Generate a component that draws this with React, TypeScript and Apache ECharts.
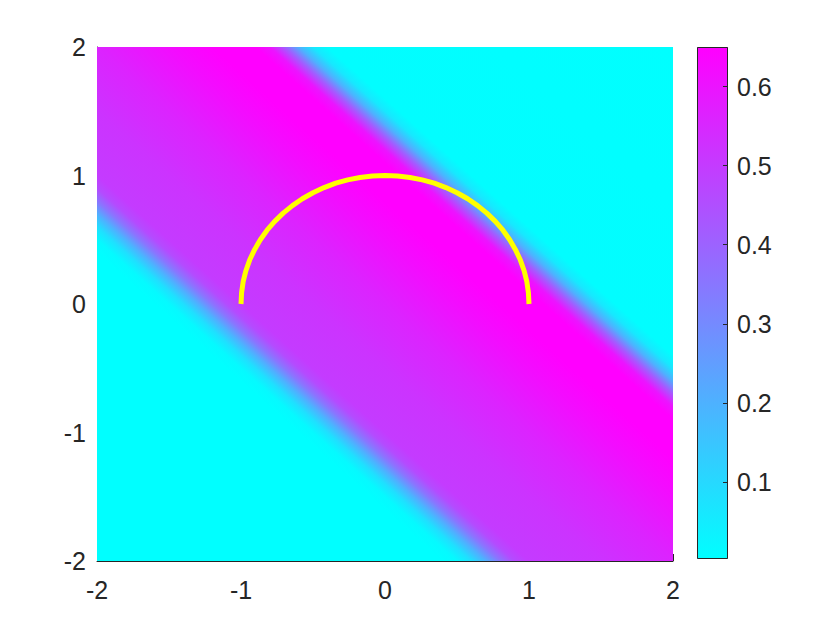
import React, { useEffect, useRef } from "react";
import * as echarts from "echarts";

// Cross-section of the field along s = x + y
const S_KNOTS = [-4, -1.6, -1.5, -1.4, -1.3, -1.2, -1.1, -1.0, -0.5, 0, 0.5, 0.8, 1.1, 1.2, 1.3, 1.4, 1.5, 1.6, 4];
const V_KNOTS = [0.0025, 0.003, 0.015, 0.08, 0.2, 0.35, 0.46, 0.5, 0.52, 0.56, 0.62, 0.65, 0.65, 0.6, 0.42, 0.2, 0.06, 0.008, 0.0025];

// Colour bar range and ticks
const CBAR_MIN = 0.0025;
const CBAR_MAX = 0.65;
const CBAR_TICKS = [0.1, 0.2, 0.3, 0.4, 0.5, 0.6];

// Yellow semicircle (unit radius) sampled every 5 degrees
const ARC_X = [1, 0.996, 0.985, 0.966, 0.94, 0.906, 0.866, 0.819, 0.766, 0.707, 0.643, 0.574, 0.5, 0.423, 0.342, 0.259, 0.174, 0.087, 0,
  -0.087, -0.174, -0.259, -0.342, -0.423, -0.5, -0.574, -0.643, -0.707, -0.766, -0.819, -0.866, -0.906, -0.94, -0.966, -0.985, -0.996, -1];
const ARC_Y = [0, 0.087, 0.174, 0.259, 0.342, 0.423, 0.5, 0.574, 0.643, 0.707, 0.766, 0.819, 0.866, 0.906, 0.94, 0.966, 0.985, 0.996, 1,
  0.996, 0.985, 0.966, 0.94, 0.906, 0.866, 0.819, 0.766, 0.707, 0.643, 0.574, 0.5, 0.423, 0.342, 0.259, 0.174, 0.087, 0];

const TEXT = "#262626";
const FONT = "Liberation Sans, Arial, Helvetica, sans-serif";
const FONT_SIZE = 25;

function coolColor(v: number): string {
  let t = (v - CBAR_MIN) / (CBAR_MAX - CBAR_MIN);
  t = Math.max(0, Math.min(1, t));
  const r = Math.round(255 * t);
  const g = Math.round(255 * (1 - t));
  return `rgb(${r},${g},255)`;
}

export default function App() {
  const ref = useRef<HTMLDivElement>(null);
  useEffect(() => {
    if (!ref.current) return;
    const chart = echarts.init(ref.current, null, { renderer: "svg" });
    const sMin = S_KNOTS[0];
    const sMax = S_KNOTS[S_KNOTS.length - 1];

    const option: any = {
      animation: false,
      grid: [
        { left: 97, top: 47, width: 576, height: 514 },
        { left: 697, top: 47, width: 31, height: 512 },
      ],
      xAxis: [
        {
          type: "value", gridIndex: 0, min: -2, max: 2, interval: 1, position: "bottom",
          axisLine: { show: true, onZero: false, lineStyle: { color: TEXT, width: 1 } },
          axisTick: { show: true, inside: true, length: 7, lineStyle: { color: TEXT } },
          axisLabel: { color: TEXT, fontSize: FONT_SIZE, fontFamily: FONT, margin: 16 },
          splitLine: { show: false },
        },
        { type: "value", gridIndex: 1, min: 0, max: 1, show: false, axisLine: { onZero: false } },
      ],
      yAxis: [
        {
          type: "value", gridIndex: 0, min: -2, max: 2, interval: 1, position: "left",
          axisLine: { show: true, onZero: false, lineStyle: { color: TEXT, width: 1 } },
          axisTick: { show: true, inside: true, length: 7, lineStyle: { color: TEXT } },
          axisLabel: { color: TEXT, fontSize: FONT_SIZE, fontFamily: FONT, margin: 11 },
          splitLine: { show: false },
        },
        {
          type: "value", gridIndex: 1, min: CBAR_MIN, max: CBAR_MAX, position: "right", z: 10,
          axisLine: { show: false, onZero: false },
          axisTick: { show: true, inside: true, length: 5, customValues: CBAR_TICKS, lineStyle: { color: TEXT, width: 1 } },
          axisLabel: {
            color: TEXT, fontSize: FONT_SIZE, fontFamily: FONT, margin: 9,
            customValues: CBAR_TICKS,
            formatter: (v: number) => v.toFixed(1),
          },
          splitLine: { show: false },
        },
      ],
      series: [
        {
          type: "custom",
          xAxisIndex: 0,
          yAxisIndex: 0,
          silent: true,
          data: [[-2, -2]],
          renderItem: (params: any, api: any) => {
            const p0 = api.coord([-2, 2]);
            const p1 = api.coord([2, -2]);
            const kx = (p1[0] - p0[0]) / 4;
            const ky = (p1[1] - p0[1]) / 4;
            const L = Math.sqrt(kx * kx + ky * ky);
            const A = api.coord([sMin / 2, sMin / 2]);
            const dist = ((sMax - sMin) * kx * ky) / L;
            const B = [A[0] + (ky / L) * dist, A[1] - (kx / L) * dist];
            const stops = S_KNOTS.map((s, i) => ({
              offset: (s - sMin) / (sMax - sMin),
              color: coolColor(V_KNOTS[i]),
            }));
            return {
              type: "rect",
              shape: { x: p0[0], y: p0[1], width: p1[0] - p0[0], height: p1[1] - p0[1] },
              style: { fill: new echarts.graphic.LinearGradient(A[0], A[1], B[0], B[1], stops, true) },
            };
          },
        },
        {
          type: "line",
          xAxisIndex: 0,
          yAxisIndex: 0,
          silent: true,
          showSymbol: false,
          data: ARC_X.map((x, i) => [x, ARC_Y[i]]),
          lineStyle: { color: "#ffff00", width: 5, cap: "butt", join: "round" },
          z: 3,
        },
        {
          type: "custom",
          xAxisIndex: 1,
          yAxisIndex: 1,
          silent: true,
          z: 1,
          data: [[0, CBAR_MIN]],
          renderItem: (params: any, api: any) => {
            const b = api.coord([0, CBAR_MIN]);
            const t = api.coord([1, CBAR_MAX]);
            const fill = new echarts.graphic.LinearGradient(0, b[1], 0, t[1], [
              { offset: 0, color: coolColor(CBAR_MIN) },
              { offset: 1, color: coolColor(CBAR_MAX) },
            ], true);
            return {
              type: "group",
              children: [
                {
                  type: "rect",
                  shape: { x: b[0], y: t[1], width: t[0] - b[0], height: b[1] - t[1] },
                  style: { fill },
                },
                {
                  type: "rect",
                  shape: { x: b[0] + 0.5, y: t[1] + 0.5, width: t[0] - b[0] - 1, height: b[1] - t[1] - 1 },
                  style: { fill: "none", stroke: TEXT, lineWidth: 1 },
                },
              ],
            };
          },
        },
      ],
    };
    chart.setOption(option);
    return () => chart.dispose();
  }, []);
  return (
    <div
      ref={ref}
      style={{ position: "fixed", left: 0, top: 0, width: 840, height: 630, background: "#ffffff" }}
    />
  );
}
